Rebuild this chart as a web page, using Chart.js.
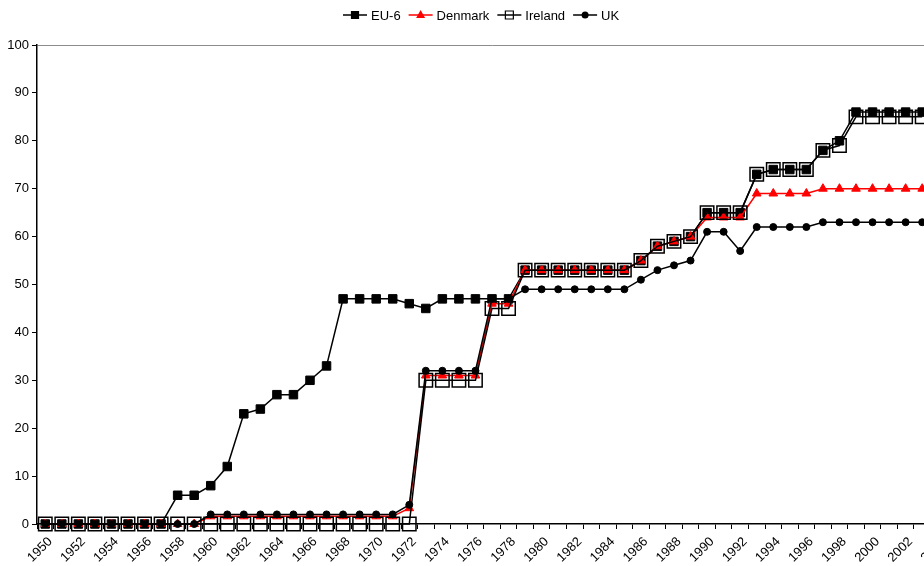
<!DOCTYPE html>
<html><head><meta charset="utf-8">
<script src="https://cdn.jsdelivr.net/npm/chart.js@4.4.1/dist/chart.umd.min.js"></script>
<style>
html,body{margin:0;padding:0;overflow:hidden;background:#fff;width:924px;height:566px}
#wrap{position:absolute;left:0;top:0;width:958px;height:566px}
</style>
</head><body><div id="wrap"><canvas id="c" width="958" height="566"></canvas></div>
<script>
const years = ['1950','1951','1952','1953','1954','1955','1956','1957','1958','1959',
  '1960','1961','1962','1963','1964','1965','1966','1967','1968','1969',
  '1970','1971','1972','1973','1974','1975','1976','1977','1978','1979',
  '1980','1981','1982','1983','1984','1985','1986','1987','1988','1989',
  '1990','1991','1992','1993','1994','1995','1996','1997','1998','1999',
  '2000','2001','2002','2003','2004'];
const eu6 = [0,0,0,0,0,0,0,0,6,6, 8,12,23,24,27,27,30,33,47,47, 47,47,46,45,47,47,47,47,47,53,
  53,53,53,53,53,53,55,58,59,60, 65,65,65,73,74,74,74,78,80,86, 86,86,86,86];
const denmark = [0,0,0,0,0,0,0,0,0,0, 1.6,1.6,1.6,1.6,1.6,1.6,1.6,1.6,1.6,1.6, 1.6,1.6,3.3,31,31,31,31,46,46,53,
  53,53,53,53,53,53,55,58,59,60, 64,64,64,69,69,69,69,70,70,70, 70,70,70,70];
const ireland = [0,0,0,0,0,0,0,0,0,0, 0,0,0,0,0,0,0,0,0,0, 0,0,0,30,30,30,30,45,45,53,
  53,53,53,53,53,53,55,58,59,60, 65,65,65,73,74,74,74,78,79,85, 85,85,85,85];
const uk = [0,0,0,0,0,0,0,0,0,0, 2,2,2,2,2,2,2,2,2,2, 2,2,4,32,32,32,32,47,47,49,
  49,49,49,49,49,49,51,53,54,55, 61,61,57,62,62,62,62,63,63,63, 63,63,63,63];
const yTicks = [0,10,20,30,40,50,60,70,80,90,100];

const FONT = '"Liberation Sans", Arial, sans-serif';

const legendPlugin = {
  id: 'lineLegend',
  afterDraw(chart) {
    const ctx = chart.ctx;
    ctx.save();
    ctx.font = '13px ' + FONT;
    ctx.textBaseline = 'middle';
    const lineLen = 24, gap = 4, itemGap = 8, y = 15;
    const items = chart.data.datasets.map(ds => ({ds, w: lineLen + gap + ctx.measureText(ds.label).width}));
    const total = items.reduce((s, it) => s + it.w, 0) + itemGap * (items.length - 1);
    let x = Math.round(chart.width / 2 - total / 2) + 2;
    items.forEach(({ds, w}) => {
      ctx.strokeStyle = ds.borderColor;
      ctx.lineWidth = 1.5;
      ctx.beginPath(); ctx.moveTo(x, y); ctx.lineTo(x + lineLen, y); ctx.stroke();
      const cx = x + lineLen / 2;
      ctx.fillStyle = ds.pointBackgroundColor;
      ctx.strokeStyle = ds.pointBorderColor;
      ctx.lineWidth = 1.2;
      ctx.beginPath();
      if (ds.pointStyle === 'circle') {
        ctx.arc(cx, y, 3.5, 0, Math.PI * 2);
        ctx.fill();
      } else if (ds.pointStyle === 'triangle') {
        ctx.moveTo(cx, y - 5); ctx.lineTo(cx + 4.5, y + 3); ctx.lineTo(cx - 4.5, y + 3); ctx.closePath();
        ctx.fill();
      } else {
        const s = ds.legendSide;
        ctx.rect(cx - s / 2, y - s / 2, s, s);
        ctx.fill(); ctx.stroke();
      }
      ctx.fillStyle = '#000';
      ctx.textAlign = 'left';
      ctx.fillText(ds.label, x + lineLen + gap, y + 1);
      x += w + itemGap;
    });
    ctx.restore();
  }
};

new Chart(document.getElementById('c'), {
  type: 'line',
  data: {
    labels: years,
    datasets: [
      {label: 'EU-6', data: eu6, borderColor: '#000', borderWidth: 1.5, pointStyle: 'rect', pointRadius: 6,
       pointBackgroundColor: '#000', pointBorderColor: '#000', pointBorderWidth: 1, order: 4, clip: false, legendSide: 7},
      {label: 'Denmark', data: denmark, borderColor: '#ff0000', borderWidth: 1.5, pointStyle: 'triangle', pointRadius: 5,
       pointBackgroundColor: '#ff0000', pointBorderColor: '#ff0000', pointBorderWidth: 1, order: 3, clip: false},
      {label: 'Ireland', data: ireland, borderColor: '#000', borderWidth: 1.5, pointStyle: 'rect', pointRadius: 9.5,
       pointBackgroundColor: 'rgba(0,0,0,0)', pointBorderColor: '#000', pointBorderWidth: 1.5, order: 2, clip: false, legendSide: 8},
      {label: 'UK', data: uk, borderColor: '#000', borderWidth: 1.5, pointStyle: 'circle', pointRadius: 3.5,
       pointBackgroundColor: '#000', pointBorderColor: '#000', pointBorderWidth: 1, order: 1, clip: false}
    ]
  },
  options: {
    responsive: false,
    animation: false,
    devicePixelRatio: 1,
    layout: {padding: {top: 45, right: 9, bottom: 0, left: 0}},
    plugins: {legend: {display: false}, tooltip: {enabled: false}},
    elements: {line: {tension: 0}},
    scales: {
      x: {
        type: 'category',
        offset: true,
        grid: {offset: true, drawOnChartArea: false, tickLength: 5, tickColor: '#000', lineWidth: 1},
        border: {color: '#000', width: 1.5},
        ticks: {autoSkip: false, maxRotation: 45, minRotation: 45, color: '#000', padding: 5, labelOffset: 5,
          font: {family: FONT, size: 13},
          callback: (v, i) => (i % 2 === 0 ? years[i] : '')},
        afterFit: s => { s.height = 42; }
      },
      y: {
        min: 0, max: 100,
        afterBuildTicks: s => { s.ticks = yTicks.map(v => ({value: v})); },
        grid: {color: c => (c.tick && c.tick.value === 100 ? '#8c8c8c' : 'rgba(0,0,0,0)'), tickColor: '#000', tickLength: 5},
        border: {color: '#000', width: 1.5},
        ticks: {color: '#000', padding: 3, font: {family: FONT, size: 13}},
        afterFit: s => { s.width = 37; }
      }
    }
  },
  plugins: [legendPlugin]
});
</script>
</body></html>
